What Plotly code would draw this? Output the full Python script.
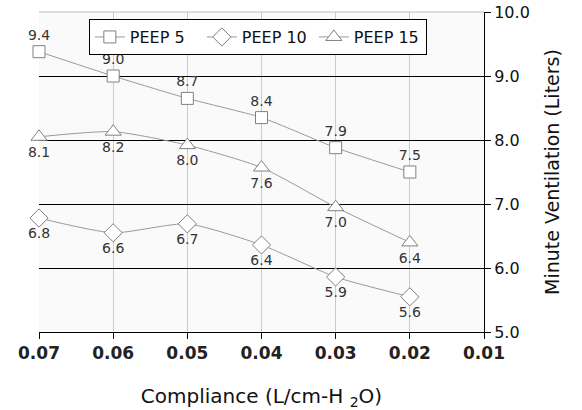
import plotly.graph_objects as go

compliance = [0.07, 0.06, 0.05, 0.04, 0.03, 0.02]
peep5 = [9.38, 9.0, 8.65, 8.35, 7.88, 7.5]
peep10 = [6.78, 6.55, 6.69, 6.36, 5.86, 5.55]
peep15 = [8.05, 8.13, 7.92, 7.57, 6.95, 6.4]
peep5_labels = ["9.4", "9.0", "8.7", "8.4", "7.9", "7.5"]
peep10_labels = ["6.8", "6.6", "6.7", "6.4", "5.9", "5.6"]
peep15_labels = ["8.1", "8.2", "8.0", "7.6", "7.0", "6.4"]
x_ticks = [0.07, 0.06, 0.05, 0.04, 0.03, 0.02, 0.01]
x_tick_labels = ["0.07", "0.06", "0.05", "0.04", "0.03", "0.02", "0.01"]
y_ticks = [5, 6, 7, 8, 9, 10]
y_tick_labels = ["5.0", "6.0", "7.0", "8.0", "9.0", "10.0"]

font_family = "DejaVu Sans, Verdana, sans-serif"
line_col = "#9a9a9a"

def series(name, y, labels, symbol, pos, size):
    return go.Scatter(
        x=compliance, y=y, name=name, mode="lines+markers+text",
        text=labels, textposition=pos, cliponaxis=False,
        textfont=dict(family=font_family, size=14, color="#333333"),
        line=dict(color=line_col, width=1, shape="spline", smoothing=0.6),
        marker=dict(symbol=symbol, size=size, color="white",
                    line=dict(color="#808080", width=1)),
    )

fig = go.Figure()
fig.add_trace(series("PEEP 5", peep5, peep5_labels, "square", "top center", 12))
fig.add_trace(series("PEEP 10", peep10, peep10_labels, "diamond", "bottom center", 14))
fig.add_trace(series("PEEP 15", peep15, peep15_labels, "triangle-up", "bottom center", 14))

fig.update_layout(
    width=582, height=410,
    margin=dict(l=39, r=98, t=12, b=78, autoexpand=False),
    paper_bgcolor="white",
    plot_bgcolor="#fafafa",
    font=dict(family=font_family, color="#111111"),
    showlegend=True,
    legend=dict(
        orientation="h", x=0.112, y=0.978, xanchor="left", yanchor="top",
        bgcolor="white", bordercolor="black", borderwidth=1,
        font=dict(family=font_family, size=16, color="#111111"),
        entrywidth=67, entrywidthmode="pixels",
    ),
    xaxis=dict(
        range=[0.07, 0.01], tickvals=x_ticks, ticktext=x_tick_labels,
        automargin=False, ticklabeloverflow="allow",
        showgrid=True, gridcolor="#cccccc", gridwidth=1,
        showline=True, linecolor="black", linewidth=1,
        ticks="outside", ticklen=6, tickcolor="black",
        tickfont=dict(family="DejaVu Sans", size=17, color="#222222", weight="bold"),
        zeroline=False,
        title=dict(text="Compliance (L/cm-H <sub>2</sub>O)",
                   font=dict(family=font_family, size=20, color="#111111"),
                   standoff=26),
    ),
    yaxis=dict(
        side="right", range=[5, 10], tickvals=y_ticks, ticktext=y_tick_labels,
        automargin=False, ticklabeloverflow="allow",
        showgrid=True, gridcolor="black", gridwidth=1,
        showline=True, linecolor="black", linewidth=1,
        ticks="outside", ticklen=6, tickcolor="black",
        tickfont=dict(family=font_family, size=16, color="#111111"),
        zeroline=False,
        title=dict(text="Minute Ventilation (Liters)",
                   font=dict(family=font_family, size=19, color="#111111"),
                   standoff=16),
    ),
    shapes=[dict(type="line", xref="paper", yref="paper", x0=0, x1=1, y0=1, y1=1,
                 line=dict(color="#bbbbbb", width=1), layer="above")],
)

fig.write_html("out.html", config={"displayModeBar": False},
               post_script="document.body.style.margin='0px';")
